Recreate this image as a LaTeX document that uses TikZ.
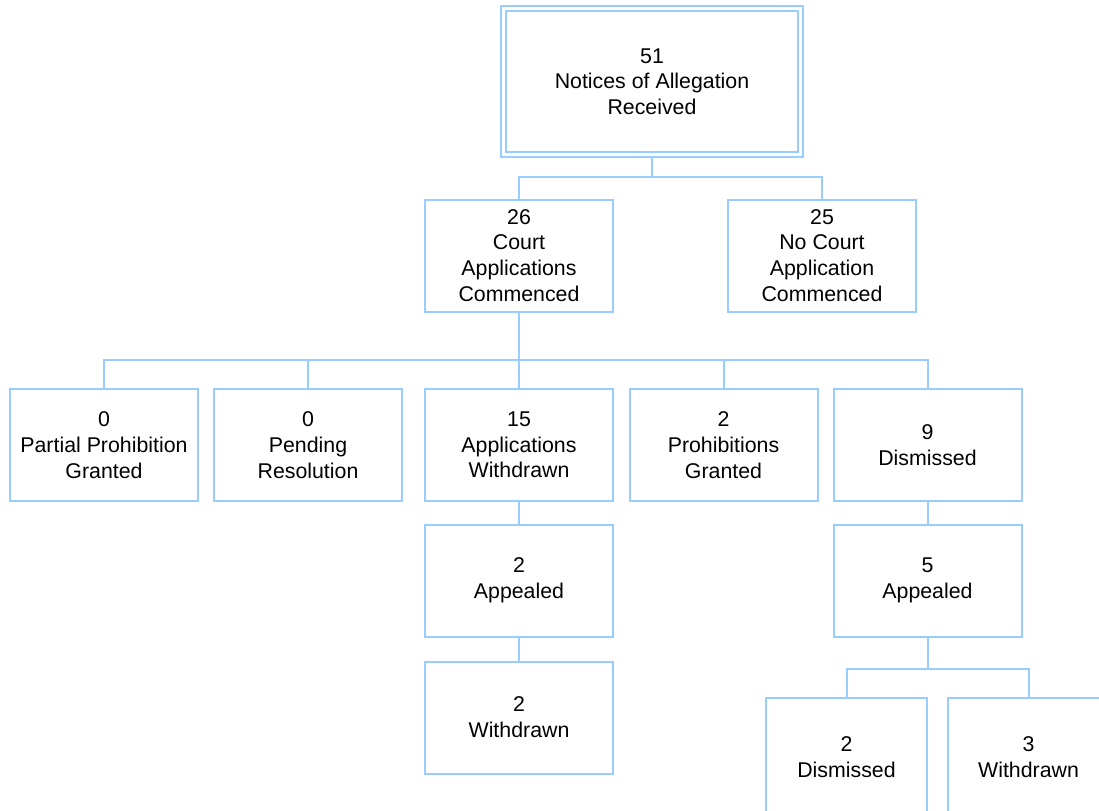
\documentclass[tikz,border=0pt]{standalone}
\usepackage{fontspec}
\setmainfont{Liberation Sans}
\definecolor{edgeblue}{RGB}{153,204,255}
\begin{document}
\begin{tikzpicture}[x=0.75pt,y=-0.75pt,
  box/.style={draw=edgeblue, line width=1.5pt, fill=white, inner sep=0pt,
    align=center, minimum width=141pt, minimum height=84pt,
    font=\fontsize{16}{19.3}\selectfont, text=black},
  narrowbox/.style={box, minimum width=120.75pt, minimum height=88.5pt},
  topbox/.style={box, double=white, double distance=2.25pt, outer sep=2.6pt,
    minimum width=222.75pt, minimum height=109.5pt},
  conn/.style={draw=edgeblue, line width=1.5pt}]
\useasboundingbox (0,0) rectangle (1099,810);
\begin{scope}
\clip (0,0) rectangle (1099,810);

% levels of the horizontal branch lines
\coordinate (b1) at (0,177);
\coordinate (b2) at (0,360);
\coordinate (b3) at (0,669);

% root
\node[topbox] (top) at (652,81.5) {51\\Notices of Allegation\\Received};

% second level
\node[box] (court)   at (519,255.5) {26\\Court\\Applications\\Commenced};
\node[box] (nocourt) at (822,255.5) {25\\No Court\\Application\\Commenced};

% outcomes of the court applications
\node[box] (r1) at (104,445)   {0\\Partial Prohibition\\Granted};
\node[box] (r2) at (308,445)   {0\\Pending\\Resolution};
\node[box] (r3) at (519,445)   {15\\Applications\\Withdrawn};
\node[box] (r4) at (723.5,445) {2\\Prohibitions\\Granted};
\node[box] (r5) at (927.5,445) {9\\Dismissed};

% appeals
\node[box] (ap1) at (519,580.5)   {2\\Appealed};
\node[box] (ap2) at (927.5,580.5) {5\\Appealed};
\node[box] (wd1) at (519,717.5)   {2\\Withdrawn};

% outcomes of the appeals after dismissal (running off the lower edge)
\node[narrowbox] (dm2) at (846.5,757)  {2\\Dismissed};
\node[narrowbox] (wd2) at (1028.5,757) {3\\Withdrawn};

% connectors
\draw[conn] (top.south) -- (top.south |- b1) -| (court.north);
\draw[conn] (top.south |- b1) -| (nocourt.north);

\draw[conn] (court.south) -- (court.south |- b2);
\foreach \n in {r1,r2,r3,r4,r5}
  \draw[conn] (court.south |- b2) -| (\n.north);

\draw[conn] (r3.south) -- (ap1.north);
\draw[conn] (ap1.south) -- (wd1.north);
\draw[conn] (r5.south) -- (ap2.north);

\draw[conn] (ap2.south) -- (ap2.south |- b3) -| (dm2.north);
\draw[conn] (ap2.south |- b3) -| (wd2.north);
\end{scope}
\end{tikzpicture}
\end{document}
